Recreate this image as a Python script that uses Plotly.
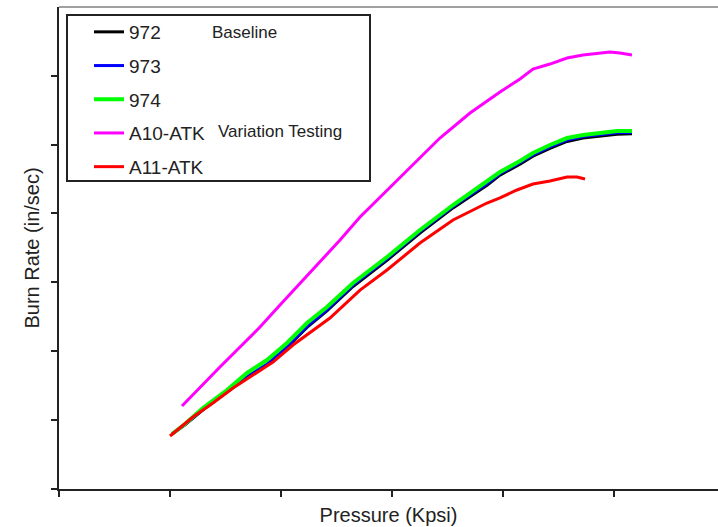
import plotly.graph_objects as go

# Pressure (Kpsi) and burn rate (in/sec)
p_972 = [1.018, 1.135, 1.297, 1.514, 1.694, 1.874, 2.054, 2.234, 2.414, 2.649, 2.955,
         3.252, 3.550, 3.856, 3.973, 4.153, 4.270, 4.423, 4.577, 4.721, 4.874, 5.027, 5.162]
r_972 = [0.0798, 0.0930, 0.1150, 0.1405, 0.1620, 0.1805, 0.2055, 0.2345, 0.2585, 0.2940, 0.3320,
         0.3715, 0.4080, 0.4410, 0.4555, 0.4715, 0.4830, 0.4945, 0.5045, 0.5095, 0.5125, 0.5150, 0.5155]

p_973 = [1.018, 1.135, 1.297, 1.514, 1.694, 1.874, 2.054, 2.234, 2.414, 2.649, 2.955,
         3.252, 3.550, 3.856, 3.973, 4.153, 4.270, 4.423, 4.577, 4.721, 4.874, 5.027, 5.162]
r_973 = [0.0798, 0.0935, 0.1155, 0.1410, 0.1630, 0.1810, 0.2065, 0.2360, 0.2600, 0.2960, 0.3340,
         0.3735, 0.4100, 0.4430, 0.4575, 0.4735, 0.4850, 0.4965, 0.5065, 0.5115, 0.5145, 0.5170, 0.5175]

p_974 = [1.018, 1.135, 1.297, 1.514, 1.694, 1.874, 2.054, 2.234, 2.414, 2.649, 2.955,
         3.252, 3.550, 3.856, 3.973, 4.153, 4.270, 4.423, 4.577, 4.721, 4.874, 5.027, 5.162]
r_974 = [0.0798, 0.0943, 0.1176, 0.1437, 0.1684, 0.1872, 0.2119, 0.2409, 0.2642, 0.2990, 0.3367,
         0.3759, 0.4122, 0.4456, 0.4601, 0.4761, 0.4877, 0.4993, 0.5094, 0.5138, 0.5167, 0.5196, 0.5196]

p_a10 = [1.108, 1.270, 1.450, 1.631, 1.811, 1.991, 2.198, 2.351, 2.532, 2.712, 2.892, 3.072,
         3.252, 3.432, 3.703, 3.973, 4.153, 4.270, 4.423, 4.577, 4.721, 4.874, 4.964, 5.054, 5.162]
r_a10 = [0.1205, 0.1480, 0.1771, 0.2061, 0.2351, 0.2671, 0.3033, 0.3295, 0.3614, 0.3948, 0.4238,
         0.4528, 0.4819, 0.5094, 0.5457, 0.5762, 0.5951, 0.6096, 0.6168, 0.6255, 0.6299, 0.6328,
         0.6343, 0.6328, 0.6299]

p_a11 = [1.000, 1.207, 1.387, 1.568, 1.748, 1.928, 2.108, 2.288, 2.441, 2.712, 2.955, 3.252,
         3.550, 3.856, 3.973, 4.126, 4.270, 4.423, 4.577, 4.667, 4.739]
r_a11 = [0.0769, 0.1045, 0.1248, 0.1466, 0.1655, 0.1843, 0.2090, 0.2308, 0.2482, 0.2888, 0.3179,
         0.3570, 0.3904, 0.4151, 0.4224, 0.4340, 0.4427, 0.4470, 0.4528, 0.4528, 0.4499]

series = [
    ("972", p_972, r_972, "#000000", 3),
    ("973", p_973, r_973, "#0000ff", 3),
    ("974", p_974, r_974, "#00ff00", 4),
    ("A10-ATK", p_a10, r_a10, "#ff00ff", 3),
    ("A11-ATK", p_a11, r_a11, "#ff0000", 3),
]

fig = go.Figure()
for name, xs, ys, color, w in series:
    fig.add_trace(go.Scatter(x=xs, y=ys, mode="lines", name=name, legendgroup=name,
                             line=dict(color=color, width=w)))

W, H = 718, 527
L, R, T, B = 59, 0, 7, 38
pw, ph = W - L - R, H - T - B

axis_common = dict(showgrid=False, zeroline=False, showticklabels=False,
                   ticks="outside", ticklen=6, tickwidth=1.5, tickcolor="#222",
                   showline=True, linecolor="#222", linewidth=2, automargin=False)

fig.update_layout(
    width=W, height=H,
    margin=dict(l=L, r=R, t=T, b=B),
    paper_bgcolor="white", plot_bgcolor="white",
    font=dict(family="Liberation Sans, Arial, sans-serif", color="#222"),
    xaxis=dict(range=[0, 5.937], dtick=1, tick0=0,
               title=dict(text="Pressure (Kpsi)", font=dict(size=20), standoff=12),
               **axis_common),
    yaxis=dict(range=[0, 0.6996], dtick=0.1, tick0=0,
               title=dict(text="Burn Rate (in/sec)", font=dict(size=20), standoff=6),
               **axis_common),
    legend=dict(x=(89 - L) / pw, y=(489 - 13) / ph, xanchor="left", yanchor="top",
                borderwidth=0, bgcolor="rgba(0,0,0,0)",
                font=dict(size=19), tracegroupgap=6, itemwidth=30),
    showlegend=True,
)

# legend frame
fig.add_shape(type="rect", xref="paper", yref="paper",
              x0=(67 - L) / pw, x1=(370 - L) / pw, y0=(489 - 181) / ph, y1=(489 - 15) / ph,
              line=dict(color="#222", width=2), fillcolor="rgba(0,0,0,0)", layer="above")

fig.add_shape(type="line", xref="paper", yref="paper", x0=0, x1=1, y0=1, y1=1,
              line=dict(color="#a0a0a0", width=2))

fig.add_annotation(text="Baseline", xref="paper", yref="paper",
                   x=(210 - L) / pw, y=(489 - 32) / ph, xanchor="left", yanchor="middle",
                   showarrow=False, font=dict(size=17))
fig.add_annotation(text="Variation Testing", xref="paper", yref="paper",
                   x=(216 - L) / pw, y=(489 - 131) / ph, xanchor="left", yanchor="middle",
                   showarrow=False, font=dict(size=17))

fig.write_html("out.html", config={"displayModeBar": False},
               post_script="document.body.style.margin='0';document.body.style.padding='0';")
